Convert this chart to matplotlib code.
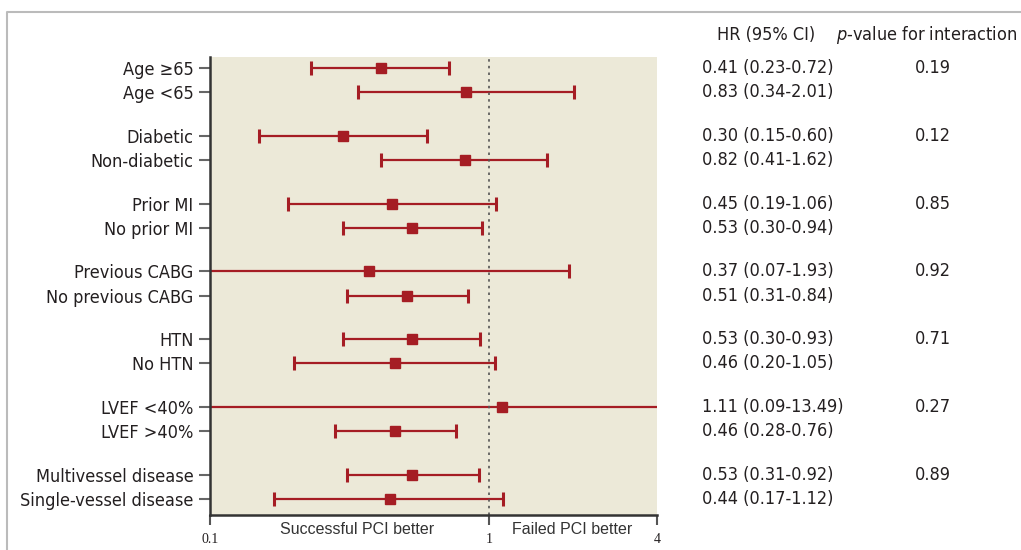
# forest plot: HR of failed vs successful PCI by subgroup

import matplotlib.pyplot as plt
import matplotlib.transforms as mtransforms
from matplotlib import font_manager
from matplotlib.lines import Line2D

# look for a narrow sans face, else fall back on Liberation Sans
narrow = None
for f in font_manager.fontManager.ttflist:
  fn = f.fname.lower()
  if ('narrow' in fn or 'condensed' in fn) and 'sans' in fn and f.style == 'normal' \
     and f.weight in (400, 'normal', 'regular') and 'mono' not in fn:
    narrow = f
    break
if narrow is not None:
  fam, stretch, fs = narrow.name, narrow.stretch, 13
else:
  fam, stretch, fs = 'Liberation Sans', 'normal', 12

plt.rcParams['font.family'] = [fam, 'DejaVu Sans']
plt.rcParams['font.stretch'] = stretch
plt.rcParams['mathtext.fontset'] = 'custom'
plt.rcParams['mathtext.rm'] = fam
plt.rcParams['mathtext.it'] = fam + ':italic'

labels = [["Age \u226565", "Age <65"],
          ["Diabetic", "Non-diabetic"],
          ["Prior MI", "No prior MI"],
          ["Previous CABG", "No previous CABG"],
          ["HTN", "No HTN"],
          ["LVEF <40%", "LVEF >40%"],
          ["Multivessel disease", "Single-vessel disease"]]
hr = [[0.41, 0.83], [0.30, 0.82], [0.45, 0.53], [0.37, 0.51],
      [0.53, 0.46], [1.11, 0.46], [0.53, 0.44]]
lo = [[0.23, 0.34], [0.15, 0.41], [0.19, 0.30], [0.07, 0.31],
      [0.30, 0.20], [0.09, 0.28], [0.31, 0.17]]
hi = [[0.72, 2.01], [0.60, 1.62], [1.06, 0.94], [1.93, 0.84],
      [0.93, 1.05], [13.49, 0.76], [0.92, 1.12]]
pvals = ["0.19", "0.12", "0.85", "0.92", "0.71", "0.27", "0.89"]

red = "#a51d24"
txt = "#231f20"
beige = "#ece9d8"

fig = plt.figure(figsize=(10.21, 5.5), dpi=100)
ax = fig.add_axes([210/1021, 1-515/550, 447/1021, (515-57)/550])
ax.set_facecolor(beige)

ys, names = [], []
tr = mtransforms.blended_transform_factory(fig.transFigure, ax.transData)
for g in range(len(labels)):
  for k in range(2):
    y = g*2.8 + k
    ys.append(y)
    names.append(labels[g][k])
    x = hr[g][k]
    ax.errorbar(x, y, xerr=[[x-lo[g][k]], [hi[g][k]-x]], fmt='s', color=red,
                ms=7.5, lw=1.6, capsize=5, capthick=2.2, mec=red)
    s = "%.2f (%.2f-%.2f)" % (hr[g][k], lo[g][k], hi[g][k])
    fig.text(702/1021, y, s, transform=tr, fontsize=fs, color=txt,
             va='center', ha='left')
  fig.text(933/1021, g*2.8, pvals[g], transform=tr, fontsize=fs, color=txt,
           va='center', ha='center')

ax.set_xscale('log')
ax.set_xlim(0.1, 4)
ax.set_ylim(17.8+0.66, -0.455)
ax.axvline(1, color="#555555", lw=1.2, ls=(0, (1.5, 2.5)))

ax.set_yticks(ys)
ax.set_yticklabels(names, fontsize=fs, color=txt)
ax.set_xticks([0.1, 1, 4])
ax.set_xticks([], minor=True)
ax.set_xticklabels(["0.1", "1", "4"], family='Liberation Serif', fontsize=10,
                   color=txt)
ax.tick_params(axis='y', length=8, width=1.5, color="#666666", pad=4)
ax.tick_params(axis='x', length=7, width=1.5, color="#555555", pad=6)
for sp in ['top', 'right']:
  ax.spines[sp].set_visible(False)
ax.spines['left'].set_color("#333333")
ax.spines['left'].set_linewidth(1.8)
ax.spines['bottom'].set_color("#333333")
ax.spines['bottom'].set_linewidth(1.8)

fig.text(357/1021, 1-530/550, "Successful PCI better", family='Liberation Sans',
         fontsize=11.5, color="#333333", ha='center', va='center')
fig.text(572/1021, 1-530/550, "Failed PCI better", family='Liberation Sans',
         fontsize=11.5, color="#333333", ha='center', va='center')

fig.text(766/1021, 1-35/550, "HR (95% CI)", fontsize=fs, color=txt,
         ha='center', va='center')
fig.text(1017/1021, 1-35/550, "$p$-value for interaction", fontsize=fs,
         color=txt, ha='right', va='center')

# outer frame (top and left only)
fig.add_artist(Line2D([7/1021, 7/1021, 1], [0, 1-12/550, 1-12/550],
                      transform=fig.transFigure, color="#bbbbbb", lw=1.5))

fig.savefig("out.png", dpi=100)
